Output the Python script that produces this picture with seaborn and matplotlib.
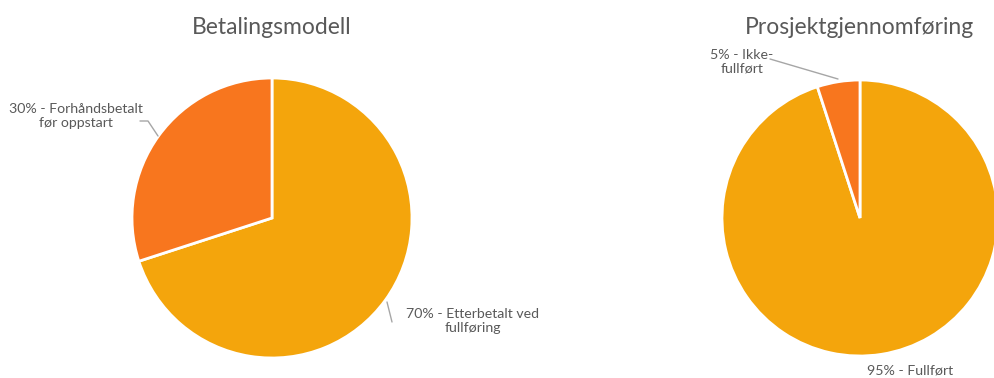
import matplotlib
matplotlib.use("Agg")
import matplotlib.pyplot as plt
import seaborn as sns

# Data
pay_labels = ["Etterbetalt ved\nfullføring", "Forhåndsbetalt\nfør oppstart"]
pay_values = [70, 30]
proj_labels = ["Fullført", "Ikke-\nfullført"]
proj_values = [95, 5]
titles = ["Betalingsmodell", "Prosjektgjennomføring"]

sns.set_theme(style="white")
plt.rcParams['font.family'] = ['Lato', 'DejaVu Sans']

colors = ["#F4A50C", "#F8761E"]
txt = "#595959"
W, H = 995, 378
fig = plt.figure(figsize=(W / 100, H / 100), dpi=100)


def make_axes(cx, cy, r):
    ax = fig.add_axes([(cx - r) / W, (H - cy - r) / H, 2 * r / W, 2 * r / H])
    ax.set_xlim(-1, 1)
    ax.set_ylim(-1, 1)
    ax.axis("off")
    return ax


def to_data(px, py, cx, cy, r):
    return (px - cx) / r, (cy - py) / r


def label(ax, px, py, text, cx, cy, r, ha="center"):
    x, y = to_data(px, py, cx, cy, r)
    ax.text(x, y, text, ha=ha, va="center", fontsize=10.2, color=txt,
            linespacing=1.15, clip_on=False)


def leader(ax, pts, cx, cy, r):
    xs, ys = zip(*[to_data(px, py, cx, cy, r) for px, py in pts])
    ax.plot(xs, ys, color="#A6A6A6", lw=1, clip_on=False)


# Left pie
cx1, cy1, r1 = 272, 218, 140
ax1 = make_axes(cx1, cy1, r1)
ax1.pie(pay_values, colors=colors, startangle=90, counterclock=False, radius=1,
        wedgeprops=dict(edgecolor="white", linewidth=2))
ax1.set_xlim(-1, 1); ax1.set_ylim(-1, 1)
fig.text(cx1 / W, 1 - 27 / H, titles[0], ha="center", va="center", fontsize=16.5, color=txt)

label(ax1, 76, 116, f"{pay_values[1]}% - {pay_labels[1]}", cx1, cy1, r1)
leader(ax1, [(140, 121), (148, 121), (158, 136)], cx1, cy1, r1)
label(ax1, 473, 321, f"{pay_values[0]}% - {pay_labels[0]}", cx1, cy1, r1)
leader(ax1, [(387, 302), (392, 322)], cx1, cy1, r1)

# Right pie
cx2, cy2, r2 = 860, 218, 138
ax2 = make_axes(cx2, cy2, r2)
ax2.pie(proj_values, colors=colors, startangle=90, counterclock=False, radius=1,
        wedgeprops=dict(edgecolor="white", linewidth=2))
ax2.set_xlim(-1, 1); ax2.set_ylim(-1, 1)
fig.text(cx2 / W, 1 - 27 / H, titles[1], ha="center", va="center", fontsize=16.5, color=txt)

label(ax2, 742, 62, f"{proj_values[1]}% - {proj_labels[1]}", cx2, cy2, r2)
leader(ax2, [(770, 59), (838, 79)], cx2, cy2, r2)
label(ax2, 910, 371, f"{proj_values[0]}% - {proj_labels[0]}", cx2, cy2, r2)

fig.savefig("out.png", dpi=100, facecolor="white")
